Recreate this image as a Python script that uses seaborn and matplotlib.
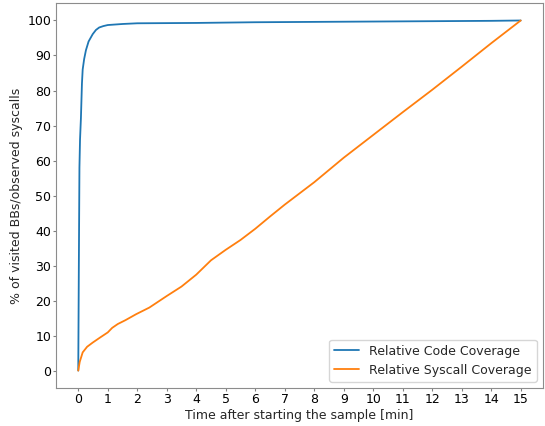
import matplotlib
matplotlib.use("Agg")
import matplotlib.pyplot as plt
import seaborn as sns
import pandas as pd

code_t = [0.0, 0.02, 0.04, 0.06, 0.09, 0.125, 0.15, 0.2, 0.26, 0.35, 0.49, 0.6, 0.71, 0.85, 1.0, 1.5, 2.0, 4.0, 6.0, 8.0, 10.0, 12.0, 14.0, 15.0]
code_v = [0.0, 30.0, 58.0, 66.0, 72.0, 82.0, 86.0, 89.0, 91.5, 94.0, 96.1, 97.3, 98.0, 98.4, 98.7, 99.0, 99.2, 99.3, 99.5, 99.6, 99.7, 99.8, 99.9, 100.0]

sys_t = [0.0, 0.05, 0.15, 0.3, 0.49, 0.75, 1.0, 1.15, 1.34, 1.6, 1.96, 2.41, 3.0, 3.5, 4.0, 4.5, 5.0, 5.5, 6.0, 6.5, 7.0, 7.5, 8.0, 9.0, 10.0, 11.0, 12.0, 13.0, 14.0, 15.0]
sys_v = [0.0, 2.5, 5.2, 6.8, 8.0, 9.5, 10.9, 12.2, 13.3, 14.4, 16.1, 18.0, 21.3, 24.0, 27.4, 31.5, 34.5, 37.3, 40.5, 44.0, 47.4, 50.6, 53.8, 60.8, 67.3, 73.8, 80.2, 86.8, 93.5, 100.0]

sns.set_style("ticks")
plt.rcParams['font.family'] = ['DejaVu Sans']

df = pd.concat([
    pd.DataFrame({"t": code_t, "v": code_v, "s": "Relative Code Coverage"}),
    pd.DataFrame({"t": sys_t, "v": sys_v, "s": "Relative Syscall Coverage"}),
])

fig = plt.figure(figsize=(5.45, 4.26), dpi=100)
ax = fig.add_axes([0.103, 0.089, 0.893, 0.904])
sns.lineplot(data=df, x="t", y="v", hue="s", palette=["#1f77b4", "#ff7f0e"], ax=ax, linewidth=1.3)

ax.set_xticks(range(0, 16))
ax.set_yticks(range(0, 101, 10))
ax.tick_params(axis="both", labelsize=9, colors="0.5", labelcolor="black", length=2.5, width=0.8, pad=1)
ax.set_xlabel("Time after starting the sample [min]", fontsize=9, labelpad=2)
ax.set_ylabel("% of visited BBs/observed syscalls", fontsize=9, labelpad=3)
for s in ax.spines.values():
    s.set_visible(True)
    s.set_color("0.55")
ax.legend(title=None, fontsize=9, loc="lower right")
fig.savefig("out.png", dpi=100)
